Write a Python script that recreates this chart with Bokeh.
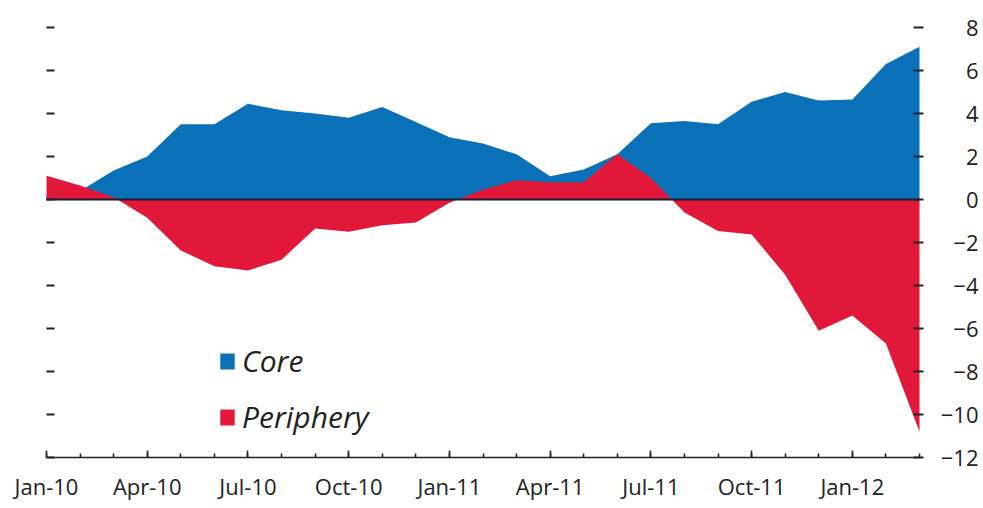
from bokeh.plotting import figure
from bokeh.models import (Range1d, LinearAxis, FixedTicker, Legend, LegendItem)
from bokeh.core.properties import value
from bokeh.embed import file_html
from bokeh.resources import INLINE

# ---- data ----
months = ["Jan-10", "Feb-10", "Mar-10", "Apr-10", "May-10", "Jun-10", "Jul-10", "Aug-10",
          "Sep-10", "Oct-10", "Nov-10", "Dec-10", "Jan-11", "Feb-11", "Mar-11", "Apr-11",
          "May-11", "Jun-11", "Jul-11", "Aug-11", "Sep-11", "Oct-11", "Nov-11", "Dec-11",
          "Jan-12", "Feb-12", "Mar-12"]
core = [0.2, 0.4, 1.35, 2.0, 3.5, 3.5, 4.45, 4.15, 4.0, 3.8, 4.3, 3.6, 2.9, 2.6, 2.1,
        1.08, 1.4, 2.1, 3.55, 3.65, 3.5, 4.55, 5.0, 4.6, 4.65, 6.3, 7.1]
periphery = [1.1, 0.65, 0.1, -0.85, -2.37, -3.1, -3.3, -2.8, -1.35, -1.5, -1.2, -1.07,
             -0.15, 0.45, 0.9, 0.8, 0.8, 2.1, 1.0, -0.6, -1.47, -1.63, -3.5, -6.1, -5.4,
             -6.7, -10.8]
x_tick_labels = ["Jan-10", "Apr-10", "Jul-10", "Oct-10", "Jan-11", "Apr-11", "Jul-11",
                 "Oct-11", "Jan-12"]
y_ticks = [8, 6, 4, 2, 0, -2, -4, -6, -8, -10, -12]
y_tick_labels = ["8", "6", "4", "2", "0", "\u22122", "\u22124", "\u22126", "\u22128",
                 "\u221210", "\u221212"]

BLUE = "#0a71b9"
RED = "#e2183a"
INK = "#222222"
FONT = "Open Sans"

x = list(range(len(months)))
major_x = [i for i, m in enumerate(months) if m in x_tick_labels]
x_first, x_last = x[0], x[-1]
y_lo, y_hi = min(y_ticks), max(y_ticks)

# ---- layout (pixels) ----
W, H = 980, 505
plot_left, plot_right = 46, 919      # pixel of first / last month
plot_top, plot_bottom = 27, 457      # pixel of top / bottom tick value
ppx = (plot_right - plot_left) / (x_last - x_first)
ppy = (plot_bottom - plot_top) / (y_hi - y_lo)
x_range = Range1d(x_first - plot_left / ppx, x_last + (W - plot_right) / ppx)
y_range = Range1d(y_lo - (H - plot_bottom) / ppy, y_hi + plot_top / ppy)

p = figure(output_backend="svg", toolbar_location=None,
           frame_width=W, frame_height=H,
           x_range=x_range, y_range=y_range,
           x_axis_location=None, y_axis_location=None,
           min_border=0, min_border_left=0, min_border_right=0,
           min_border_top=0, min_border_bottom=0)
p.xgrid.visible = False
p.ygrid.visible = False
p.outline_line_color = None
p.background_fill_color = "white"
p.border_fill_color = "white"

r_core = p.varea(x=x, y1=0, y2=core, fill_color=BLUE)
r_per = p.varea(x=x, y1=0, y2=periphery, fill_color=RED)

# zero line across the data span
p.line(x=[x_first, x_last], y=[0, 0], line_color="#1c1d33", line_width=2.2)

# bottom axis at y = -12
xa = LinearAxis(ticker=FixedTicker(ticks=major_x, minor_ticks=x),
                major_label_overrides={i: months[i] for i in major_x},
                fixed_location=y_lo, bounds=(x_first, x_last))
xa.axis_line_color = INK
xa.axis_line_width = 1.6
xa.major_tick_in = 7
xa.major_tick_out = 0
xa.minor_tick_in = 4
xa.minor_tick_out = 0
xa.major_tick_line_color = INK
xa.minor_tick_line_color = INK
xa.major_tick_line_width = 1.6
xa.minor_tick_line_width = 1.6
xa.major_label_text_font = FONT
xa.major_label_text_font_size = "22px"
xa.major_label_text_color = INK
xa.major_label_standoff = 13
p.add_layout(xa, "below")

# left axis: ticks only
la = LinearAxis(ticker=FixedTicker(ticks=y_ticks), fixed_location=x_first)
la.axis_line_color = None
la.major_tick_in = 8
la.major_tick_out = 0
la.minor_tick_line_color = None
la.major_tick_line_color = INK
la.major_tick_line_width = 2
la.major_label_text_color = None
la.major_label_text_font_size = "1px"
p.add_layout(la, "left")

# right axis at last month: ticks; labels right-aligned as text
ra = LinearAxis(ticker=FixedTicker(ticks=y_ticks), fixed_location=x_last)
ra.axis_line_color = None
ra.major_tick_in = 6
ra.major_tick_out = 4
ra.minor_tick_line_color = None
ra.major_tick_line_color = INK
ra.major_tick_line_width = 2
ra.major_label_text_color = None
ra.major_label_text_font_size = "1px"
p.add_layout(ra, "right")

p.text(x=[x_last] * len(y_ticks), y=y_ticks, text=y_tick_labels,
       x_offset=59, text_align="right", text_baseline="middle",
       text_font=value(FONT), text_font_size="22px", text_color=INK)

legend = Legend(items=[LegendItem(label="Core", renderers=[r_core]),
                       LegendItem(label="Periphery", renderers=[r_per])],
                location=(218, H - 437))
legend.background_fill_alpha = 0
legend.border_line_color = None
legend.padding = 0
legend.margin = 0
legend.spacing = 15
legend.glyph_width = 18
legend.glyph_height = 20
legend.label_standoff = 6
legend.label_text_font = FONT
legend.label_text_font_size = "30px"
legend.label_text_font_style = "italic"
legend.label_text_color = INK
p.add_layout(legend, "center")

open("out.html", "w").write(file_html(p, INLINE))
